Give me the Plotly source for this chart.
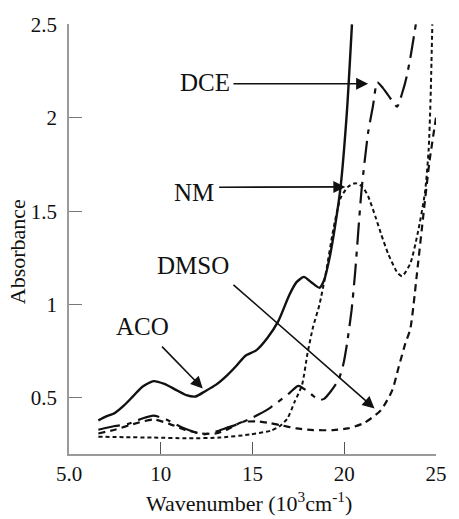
import plotly.graph_objects as go

# ---- data ----
aco_x = [6.6, 7.0, 7.5, 8.0, 8.5, 9.0, 9.6, 10.2, 10.8, 11.4, 11.9, 12.4, 13.0, 13.6, 14.1, 14.6, 15.2, 15.8,
         16.4, 17.0, 17.4, 17.8, 18.2, 18.65, 18.9, 19.2, 19.5, 19.8, 20.15, 20.42]
aco_y = [0.38, 0.40, 0.42, 0.46, 0.51, 0.56, 0.59, 0.575, 0.545, 0.515, 0.508, 0.535, 0.57, 0.62, 0.67, 0.725,
         0.755, 0.82, 0.91, 1.05, 1.12, 1.148, 1.12, 1.09, 1.13, 1.25, 1.42, 1.63, 2.04, 2.5]

dce_x = [6.6, 7.5, 8.2, 9.0, 9.6, 10.3, 11.2, 12.3, 13.0, 13.6, 14.2, 14.8, 15.3, 16.0, 17.0, 17.5, 18.2, 18.6,
         18.9, 19.3, 19.7, 19.95, 20.15, 20.4, 20.6, 20.94, 21.3, 21.56, 21.8, 22.1, 22.4, 22.88, 23.15, 23.4,
         23.6, 23.9]
dce_y = [0.33, 0.35, 0.36, 0.39, 0.405, 0.385, 0.34, 0.305, 0.32, 0.34, 0.36, 0.385, 0.41, 0.45, 0.525, 0.565,
         0.52, 0.49, 0.495, 0.54, 0.6, 0.68, 0.79, 0.97, 1.18, 1.61, 1.92, 2.06, 2.19, 2.16, 2.12, 2.06, 2.13,
         2.22, 2.32, 2.5]

dmso_x = [6.6, 7.5, 8.5, 9.6, 10.5, 11.3, 12.2, 13.0, 13.6, 14.4, 15.2, 16.0, 16.5, 17.4, 18.3, 19.4, 20.2,
          21.1, 22.0, 22.62, 22.97, 23.33, 23.6, 24.0, 24.3, 24.65, 25.0]
dmso_y = [0.31, 0.33, 0.36, 0.385, 0.36, 0.33, 0.31, 0.31, 0.33, 0.37, 0.375, 0.365, 0.355, 0.337, 0.328,
          0.328, 0.337, 0.367, 0.435, 0.542, 0.667, 0.792, 0.87, 1.2, 1.47, 1.77, 2.0]

nm_x = [6.6, 8.0, 9.6, 11.4, 13.2, 14.9, 16.0, 16.5, 16.9, 17.3, 17.7, 18.0, 18.3, 18.65, 19.0, 19.4, 19.8,
        20.2, 20.6, 21.0, 21.3, 21.7, 22.0, 22.4, 22.9, 23.15, 23.6, 24.0, 24.4, 24.6, 24.7, 24.8]
nm_y = [0.293, 0.29, 0.288, 0.284, 0.288, 0.305, 0.325, 0.35, 0.39, 0.48, 0.57, 0.74, 0.88, 1.0, 1.17, 1.4,
        1.57, 1.63, 1.65, 1.63, 1.58, 1.47, 1.38, 1.27, 1.17, 1.152, 1.22, 1.38, 1.6, 1.83, 2.09, 2.5]

x_tickvals = [5, 10, 15, 20, 25]
x_ticktext = ["5.0", "10", "15", "20", "25"]
y_tickvals = [0.5, 1, 1.5, 2, 2.5]
y_ticktext = ["0.5", "1", "1.5", "2", "2.5"]

labels = ["DCE", "NM", "DMSO", "ACO"]
label_pos = [(12.42, 2.19), (11.81, 1.60), (11.78, 1.21), (9.03, 0.88)]
arrow_tail = [(13.88, 2.182), (13.10, 1.628), (13.88, 1.113), (9.99, 0.783)]
arrow_tip = [(21.30, 2.182), (20.06, 1.63), (21.65, 0.444), (12.29, 0.551)]

FONT = "Liberation Serif"
INK = "#111111"

fig = go.Figure()
fig.add_trace(go.Scatter(x=aco_x, y=aco_y, mode="lines", line=dict(color=INK, width=2.4, shape="spline", smoothing=0.6)))
fig.add_trace(go.Scatter(x=dce_x, y=dce_y, mode="lines", line=dict(color=INK, width=2.2, dash="22px,7px,5px,7px", shape="spline", smoothing=0.6)))
fig.add_trace(go.Scatter(x=dmso_x, y=dmso_y, mode="lines", line=dict(color=INK, width=2.2, dash="7px,5px", shape="spline", smoothing=0.6)))
fig.add_trace(go.Scatter(x=nm_x, y=nm_y, mode="lines", line=dict(color=INK, width=2.0, dash="4px,3px", shape="spline", smoothing=0.6)))

for (tx, ty), (hx, hy) in zip(arrow_tail, arrow_tip):
    fig.add_annotation(x=hx, y=hy, ax=tx, ay=ty, xref="x", yref="y", axref="x", ayref="y",
                       text="", showarrow=True, arrowhead=2, arrowsize=1.5, arrowwidth=1.6, arrowcolor=INK,
                       standoff=0, startstandoff=0)

for txt, (lx, ly) in zip(labels, label_pos):
    fig.add_annotation(x=lx, y=ly, xref="x", yref="y", text=txt, showarrow=False,
                       font=dict(family=FONT, size=25, color=INK), xanchor="center", yanchor="middle")

fig.add_annotation(x=-0.138, y=0.47, xref="paper", yref="paper", text="Absorbance", textangle=-90,
                   showarrow=False, font=dict(family=FONT, size=22, color=INK), xanchor="center", yanchor="middle")
fig.add_annotation(x=0.49, y=-0.112, xref="paper", yref="paper",
                   text="Wavenumber (10<sup>3</sup>cm<sup>-1</sup>)",
                   showarrow=False, font=dict(family=FONT, size=22, color=INK), xanchor="center", yanchor="middle")

fig.update_layout(
    width=459, height=519,
    margin=dict(l=69, r=12, t=24, b=65),
    paper_bgcolor="white", plot_bgcolor="white",
    showlegend=False,
    font=dict(family=FONT, size=21, color=INK),
    xaxis=dict(range=[5, 25], tickvals=x_tickvals, ticktext=x_ticktext, showgrid=False, zeroline=False,
               showline=True, linecolor="#9a9a9a", linewidth=1.5, ticks="inside", ticklen=12, tickwidth=1,
               tickcolor="#555555", ticklabelstandoff=0, tickfont=dict(family=FONT, size=21, color=INK)),
    yaxis=dict(range=[0.2, 2.502], tickvals=y_tickvals, ticktext=y_ticktext, showgrid=False, zeroline=False,
               showline=True, linecolor="#9a9a9a", linewidth=1.5, ticks="inside", ticklen=13, tickwidth=1,
               tickcolor="#777777", ticklabelstandoff=6, tickfont=dict(family=FONT, size=21, color=INK)),
)

fig.write_html("out.html")
